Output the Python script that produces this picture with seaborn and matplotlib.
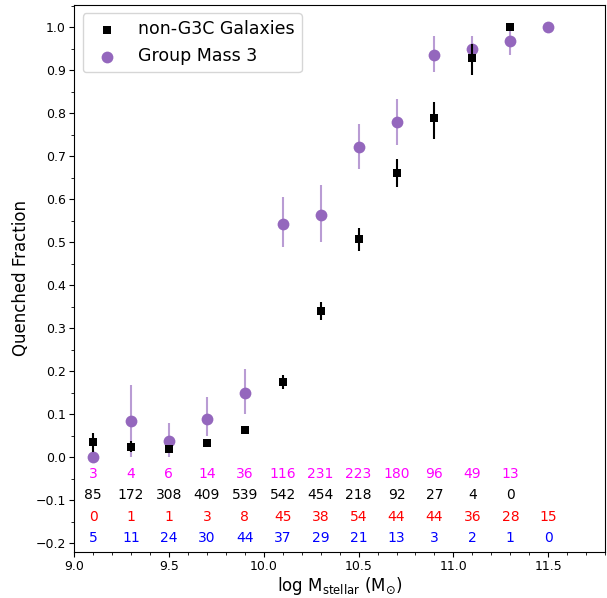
import numpy as np
import pandas as pd
import matplotlib
matplotlib.use("Agg")
import matplotlib.pyplot as plt
import seaborn as sns
from matplotlib.ticker import MultipleLocator

# bin centres (log stellar mass)
mass_bins = [9.1, 9.3, 9.5, 9.7, 9.9, 10.1, 10.3, 10.5, 10.7, 10.9, 11.1, 11.3, 11.5]

# non-G3C galaxies: quenched fraction and error range
field_frac = [0.035, 0.023, 0.019, 0.033, 0.063, 0.175, 0.339, 0.507, 0.660, 0.789, 0.929, 1.000]
field_lo = [0.013, 0.012, 0.012, 0.025, 0.055, 0.159, 0.320, 0.480, 0.629, 0.740, 0.888, 1.000]
field_hi = [0.056, 0.038, 0.027, 0.041, 0.072, 0.192, 0.361, 0.533, 0.693, 0.826, 0.960, 1.000]

# Group Mass 3
grp_frac = [0.000, 0.084, 0.039, 0.089, 0.150, 0.542, 0.564, 0.721, 0.780, 0.935, 0.950, 0.967, 1.000]
grp_lo = [0.000, 0.000, 0.000, 0.050, 0.100, 0.488, 0.500, 0.670, 0.726, 0.896, 0.925, 0.935, 1.000]
grp_hi = [0.000, 0.169, 0.080, 0.140, 0.205, 0.606, 0.633, 0.774, 0.832, 0.979, 0.979, 1.000, 1.000]

# number counts printed under the points
counts_magenta = [3, 4, 6, 14, 36, 116, 231, 223, 180, 96, 49, 13]
counts_black = [85, 172, 308, 409, 539, 542, 454, 218, 92, 27, 4, 0]
counts_red = [0, 1, 1, 3, 8, 45, 38, 54, 44, 44, 36, 28, 15]
counts_blue = [5, 11, 24, 30, 44, 37, 29, 21, 13, 3, 2, 1, 0]

field = pd.DataFrame({"mass": mass_bins[:len(field_frac)], "frac": field_frac,
                      "lo": field_lo, "hi": field_hi})
grp = pd.DataFrame({"mass": mass_bins, "frac": grp_frac, "lo": grp_lo, "hi": grp_hi})

fig, ax = plt.subplots(figsize=(6.07, 5.98), dpi=100)
fig.subplots_adjust(left=0.122, right=0.997, top=0.992, bottom=0.077)

purple = "#9467bd"

# error bars
ax.errorbar(grp["mass"], grp["frac"],
            yerr=[grp["frac"] - grp["lo"], grp["hi"] - grp["frac"]],
            fmt="none", ecolor=purple, alpha=0.65, elinewidth=1.5, zorder=2)
ax.errorbar(field["mass"], field["frac"],
            yerr=[field["frac"] - field["lo"], field["hi"] - field["frac"]],
            fmt="none", ecolor="black", elinewidth=1.5, zorder=4)

sns.scatterplot(data=field, x="mass", y="frac", marker="s", color="black",
                s=26, linewidth=0, label="non-G3C Galaxies", ax=ax, zorder=5)
sns.scatterplot(data=grp, x="mass", y="frac", marker="o", color=purple,
                s=72, linewidth=0, label="Group Mass 3", ax=ax, zorder=3)

# count rows
rows = [(counts_magenta, "magenta", -0.038), (counts_black, "black", -0.088),
        (counts_red, "red", -0.139), (counts_blue, "blue", -0.188)]
for vals, col, ypos in rows:
    for xm, v in zip(mass_bins, vals):
        ax.text(xm, ypos, str(v), color=col, fontsize=10, ha="center", va="center")

ax.set_xlim(9.0, 11.8)
ax.set_ylim(-0.22, 1.052)
ax.xaxis.set_major_locator(MultipleLocator(0.5))
ax.xaxis.set_minor_locator(MultipleLocator(0.1))
ax.yaxis.set_major_locator(MultipleLocator(0.1))
ax.yaxis.set_minor_locator(MultipleLocator(0.05))
ax.tick_params(labelsize=9, pad=2.5)
ax.set_xlabel(r"log M$_{\mathrm{stellar}}$ (M$_{\odot}$)", fontsize=12, labelpad=1)
ax.set_ylabel("Quenched Fraction", fontsize=12, labelpad=4)

ax.legend(loc="upper left", fontsize=12.5)

fig.savefig("out.png", dpi=100)
